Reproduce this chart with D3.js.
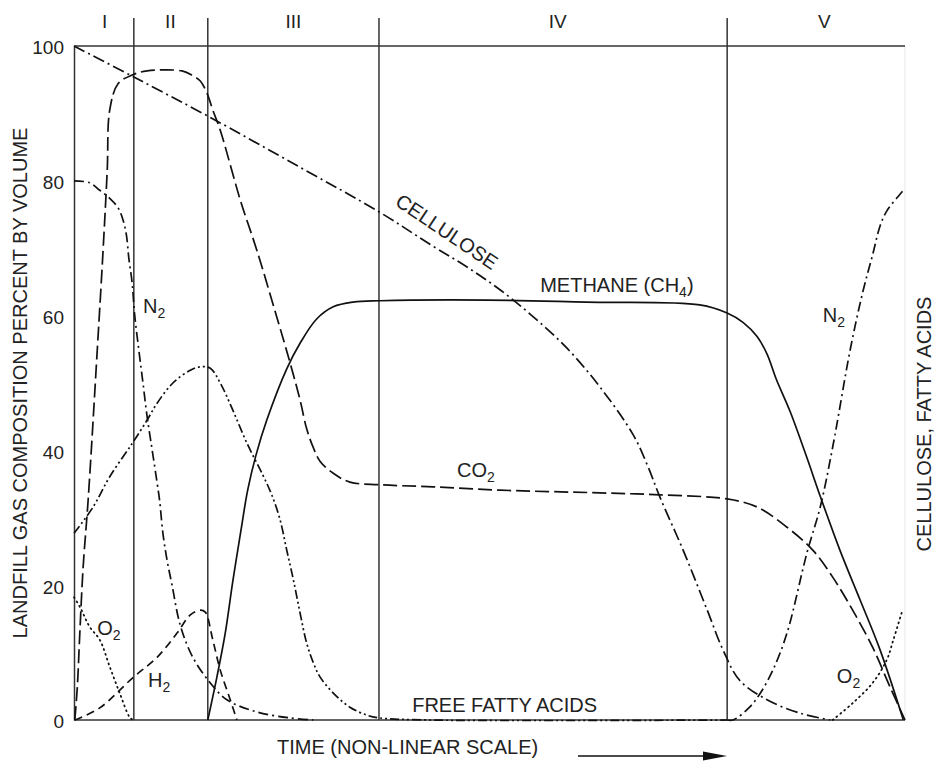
<!DOCTYPE html>
<html>
<head>
<meta charset="utf-8">
<script src="https://cdn.jsdelivr.net/npm/d3@7"></script>
<style>
    body { margin: 0; background: #fff; }
    text { font-family: "Liberation Sans", Arial, sans-serif; fill: #222; }
    .curve { fill: none; stroke: #111; stroke-width: 1.7; }
    .frame { stroke: #333; stroke-width: 1.5; }
</style>
</head>
<body>
<div id="chart"></div>
<script>
// phase boundaries on a 0-100 (non-linear) time axis
const phaseBounds = [0, 7.2, 16.1, 36.7, 78.6, 100];
const phaseNames = ["I", "II", "III", "IV", "V"];
const phaseLabelAt = [3.7, 11.6, 26.4, 58.2, 90.3];
const yTicks = [0, 20, 40, 60, 80, 100];

// [time, percent]
const cellulose = [[0, 100], [7.2, 95.4], [16.1, 89.6], [27.2, 82.0], [36.7, 75.4], [43.2, 70.3], [47.3, 67.2],
    [51.3, 63.8], [55.2, 59.9], [59.3, 55.2], [63.3, 49.4], [67.3, 42.3], [69.0, 37.8], [70.5, 33.1], [73.3, 25.2],
    [76.2, 16.3], [78.1, 10.4], [80.1, 5.9], [83.4, 3.0], [87.4, 1.0], [91.0, 0]];
const fattyAcids = [[0, 27.7], [2.3, 31.6], [4.3, 36.1], [7.1, 41.2], [8.8, 44.5], [10.0, 47.0], [11.9, 50.0],
    [14.0, 51.9], [15.2, 52.4], [16.4, 52.2], [17.6, 50.0], [19.1, 46.0], [20.8, 41.1], [22.7, 36.4], [23.8, 33.4],
    [24.8, 29.7], [25.6, 25.2], [26.4, 20.8], [27.2, 15.9], [28.0, 11.4], [28.8, 8.5], [29.6, 6.4], [31.2, 4.0],
    [33.2, 1.9], [35.3, 0.7], [36.8, 0.3], [42.8, 0], [78.6, 0]];
const nitrogenEarly = [[0, 80.0], [1.9, 79.7], [3.1, 78.6], [4.3, 77.4], [5.3, 76.0], [5.9, 74.2], [6.3, 72.0],
    [6.6, 68.5], [7.0, 64.8], [7.3, 60.1], [7.8, 54.9], [8.3, 50.0], [8.8, 45.0], [9.4, 40.1], [10.0, 35.2],
    [10.3, 32.6], [10.7, 27.7], [11.2, 23.7], [11.8, 20.0], [12.8, 14.0], [14.3, 9.3], [16.4, 5.5], [18.4, 3.0],
    [22.0, 1.2], [26.0, 0.3], [28.8, 0]];
const nitrogenLate = [[78.6, 0], [79.3, 0], [81.3, 1.9], [82.6, 4.0], [84.1, 7.4], [85.8, 12.9], [88.2, 24.8],
    [89.8, 31.6], [91.3, 40.5], [93.4, 54.9], [94.9, 63.4], [96.1, 69.0], [97.0, 73.3], [97.8, 75.5], [99.6, 78.3], [100, 78.9]];
const oxygenEarly = [[0, 18.2], [0.7, 16.8], [1.9, 13.8], [3.1, 11.9], [4.3, 7.9], [5.5, 4.0], [6.7, 0.4], [7.1, 0]];
const oxygenLate = [[91.3, 0], [93.7, 2.5], [96.1, 5.5], [97.8, 8.9], [98.6, 11.9], [99.6, 15.9]];
const carbonDioxide = [[0.1, 0], [0.4, 4.9], [0.7, 12.9], [1.1, 22.7], [1.7, 32.6], [2.8, 54.9], [3.5, 69.7],
    [4.0, 81.6], [4.3, 90.5], [5.3, 94.4], [7.0, 95.7], [8.8, 96.3], [13.0, 96.3], [14.3, 95.6], [15.2, 94.8],
    [16.0, 93.0], [16.7, 90.5], [17.6, 87.5], [20.0, 77.2], [22.0, 69.7], [24.4, 59.8], [26.0, 53.0], [27.2, 47.5],
    [28.0, 43.2], [28.8, 40.4], [29.6, 38.4], [31.2, 36.6], [33.2, 35.3], [36.8, 34.9], [43.2, 34.6], [51.3, 34.1],
    [63.3, 33.7], [70.5, 33.4], [78.6, 32.8], [82.2, 31.6], [85.8, 28.6], [88.9, 25.2], [91.3, 21.2], [93.7, 16.3],
    [96.1, 10.8], [98.2, 4.9], [100, 0]];
const hydrogen = [[0.1, 0], [3.1, 1.8], [7.1, 6.3], [10.0, 9.3], [12.4, 12.9], [14.0, 15.6], [15.2, 16.3],
    [15.8, 16.0], [16.7, 11.9], [17.6, 7.4], [18.8, 3.0], [19.6, 0]];
const methane = [[16.1, 0], [17.2, 6.4], [18.2, 12.9], [19.1, 20.5], [20.1, 28.2], [20.9, 34.1], [21.9, 39.3],
    [23.2, 44.5], [25.6, 52.1], [27.2, 55.9], [29.2, 59.5], [31.2, 61.3], [33.6, 62.0], [36.8, 62.2], [49.7, 62.3],
    [61.7, 62.0], [75.3, 61.6], [78.6, 60.4], [80.5, 59.0], [82.2, 56.9], [83.4, 54.3], [84.5, 50.6], [86.2, 45.7],
    [88.2, 38.9], [89.8, 33.2], [92.2, 25.1], [94.6, 17.8], [97.0, 10.4], [99.8, 0]];

const series = [
    { name: "cellulose", values: cellulose, dash: "12,4,2,4" },
    { name: "fatty-acids", values: fattyAcids, dash: "9,3,2,3,2,3" },
    { name: "n2-early", values: nitrogenEarly, dash: "10,4,2,4" },
    { name: "n2-late", values: nitrogenLate, dash: "10,4,2,4" },
    { name: "o2-early", values: oxygenEarly, dash: "1,4", dotted: true },
    { name: "o2-late", values: oxygenLate, dash: "1,4", dotted: true },
    { name: "co2", values: carbonDioxide, dash: "14,5" },
    { name: "h2", values: hydrogen, dash: "8,5" },
    { name: "methane", values: methane, dash: null }
];

// curve labels: text, subscript, time, percent
const labels = [
    { text: "METHANE (CH", sub: "4", tail: ")", t: 56.1, v: 63.5 },
    { text: "CO", sub: "2", t: 46.1, v: 36.1 },
    { text: "N", sub: "2", t: 8.3, v: 60.4 },
    { text: "O", sub: "2", t: 2.8, v: 12.6 },
    { text: "H", sub: "2", t: 8.9, v: 4.9 },
    { text: "FREE FATTY ACIDS", t: 40.7, v: 1.2 },
    { text: "N", sub: "2", t: 90.1, v: 59.1 },
    { text: "O", sub: "2", t: 91.8, v: 5.5 }
];

function drawChart() {
    let width = 935, height = 765;
    let svg = d3.select("#chart").append("svg").attr("width", width).attr("height", height);

    let x = d3.scaleLinear().domain([0, 100]).range([74, 905]);
    let y = d3.scaleLinear().domain([0, 100]).range([720, 46]);

    // frame: faint right edge, top and bottom lines, left axis
    svg.append("line").attr("x1", x(100)).attr("x2", x(100)).attr("y1", y(100)).attr("y2", y(0))
        .style("stroke", "#e6e6e6").style("stroke-width", 1);
    svg.append("line").classed("frame", true).attr("x1", x(0)).attr("x2", x(100)).attr("y1", y(100)).attr("y2", y(100));
    svg.append("line").classed("frame", true).attr("x1", x(0)).attr("x2", x(100)).attr("y1", y(0)).attr("y2", y(0));

    let yAxis = svg.append("g").attr("transform", "translate(" + x(0) + ",0)")
        .call(d3.axisLeft(y).tickValues(yTicks).tickSize(0).tickPadding(10));
    yAxis.select(".domain").style("stroke", "#333").style("stroke-width", 1.5);
    yAxis.selectAll("text").style("font-size", "19px").attr("dy", "0.42em")
        .style("font-family", "'Liberation Sans', Arial, sans-serif").style("fill", "#222");

    // phase dividers and roman numerals
    for (let i = 1; i < phaseBounds.length - 1; i++) {
        svg.append("line").classed("frame", true)
            .attr("x1", x(phaseBounds[i])).attr("x2", x(phaseBounds[i])).attr("y1", 18).attr("y2", y(0));
    }
    svg.selectAll(".phase-label").data(phaseNames).join("text").classed("phase-label", true)
        .attr("x", (d, i) => x(phaseLabelAt[i]))
        .attr("y", 28).attr("text-anchor", "middle").style("font-size", "19px").text(d => d);

    // curves
    let line = d3.line().x(d => x(d[0])).y(d => y(d[1])).curve(d3.curveCatmullRom.alpha(0.5));
    svg.selectAll(".curve").data(series).join("path")
        .attr("class", d => "curve " + d.name)
        .attr("d", d => line(d.values))
        .style("stroke-dasharray", d => d.dash)
        .style("stroke-linecap", d => d.dotted ? "round" : "butt")
        .style("stroke-width", d => d.dotted ? 1.8 : 1.7);

    // cellulose label follows its line
    let cx = x(44.4), cy = y(71.6);
    svg.append("text").attr("transform", "translate(" + cx + "," + cy + ") rotate(34)")
        .attr("text-anchor", "middle").style("font-size", "20px").text("CELLULOSE");

    // other curve labels with subscripts
    labels.forEach(l => {
        let t = svg.append("text").attr("x", x(l.t)).attr("y", y(l.v)).style("font-size", "20px");
        t.append("tspan").text(l.text);
        if (l.sub) {
            t.append("tspan").attr("dy", 5).style("font-size", "14px").text(l.sub);
        }
        if (l.tail) {
            t.append("tspan").attr("dy", -5).text(l.tail);
        }
    });

    // axis titles
    svg.append("text").attr("transform", "translate(27,383) rotate(-90)")
        .attr("text-anchor", "middle").style("font-size", "20px")
        .text("LANDFILL GAS COMPOSITION PERCENT BY VOLUME");
    svg.append("text").attr("transform", "translate(931,424) rotate(-90)")
        .attr("text-anchor", "middle").style("font-size", "20px")
        .text("CELLULOSE, FATTY ACIDS");
    svg.append("text").attr("x", 277).attr("y", 754).style("font-size", "20px").text("TIME (NON-LINEAR SCALE)");

    // arrow
    svg.append("line").attr("x1", 578).attr("x2", 710).attr("y1", 756).attr("y2", 756)
        .style("stroke", "#111").style("stroke-width", 1.6);
    svg.append("path").attr("d", "M703,751.5 L727,756 L703,760.5 Z").style("fill", "#111");
}

drawChart();
</script>
</body>
</html>
